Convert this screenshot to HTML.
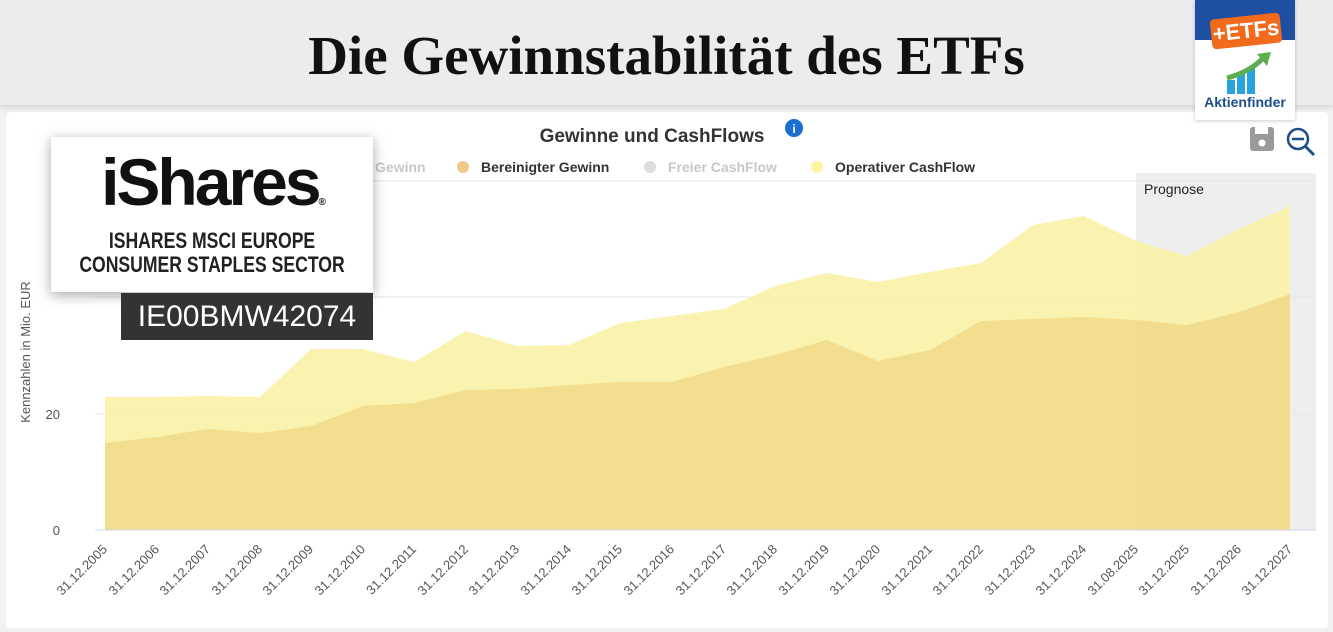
<!DOCTYPE html>
<html><head><meta charset="utf-8"><style>
body{margin:0;width:1333px;height:632px;overflow:hidden;background:#f2f2f4;font-family:"Liberation Sans",sans-serif;position:relative}
.hdr{position:absolute;left:0;top:0;width:1333px;height:105px;background:#ececee;box-shadow:0 2px 6px rgba(0,0,0,.15)}
.hdr h1{margin:0;position:absolute;left:0;width:1333px;top:24px;text-align:center;font-family:"Liberation Serif",serif;font-size:55px;font-weight:bold;color:#111}
.card{position:absolute;left:6px;top:112px;width:1322px;height:516px;background:#fff;border-radius:4px}
.logo{position:absolute;left:1195px;top:0;width:100px;height:120px;background:#fff;box-shadow:0 1px 4px rgba(0,0,0,.2)}
.ish{position:absolute;left:51px;top:137px;width:322px;height:155px;background:#fff;box-shadow:0 3px 12px rgba(0,0,0,.35);text-align:center}
.isin{position:absolute;left:121px;top:293px;width:252px;height:47px;background:#333;color:#fff;font-size:30px;line-height:47px;text-align:center;letter-spacing:0px}
</style></head><body>
<div class="hdr"><h1>Die Gewinnstabilität des ETFs</h1></div>
<div class="card"></div>
<svg style="position:absolute;left:0;top:0" width="1333" height="632">
<rect x="1136" y="173" width="180" height="357" fill="#eeeeee"/>
<text x="1144" y="194" font-size="14" fill="#222">Prognose</text>
<g stroke="#e6e6e6"><line x1="95" x2="1316" y1="181" y2="181"/><line x1="95" x2="1316" y1="297" y2="297"/><line x1="95" x2="1316" y1="414" y2="414"/></g>
<polygon fill="#f9f2a6" fill-opacity=".9" points="105,530 105,397 157,397 208,396 260,397 311,349 363,349 414,362 466,331 517,346 569,345 620,323 672,316 724,309 775,286 827,273 878,282 930,272 981,263 1033,225 1084,216 1136,241 1187,256 1239,229 1290,206 1290,530"/>
<polygon fill="#f1d98a" fill-opacity=".85" points="105,530 105,443 157,437 208,429 260,433 311,426 363,406 414,403 466,390 517,389 569,385 620,382 672,382 724,367 775,355 827,340 878,361 930,350 981,321 1033,319 1084,317 1136,320 1187,325 1239,312 1290,294 1290,530"/>
<line x1="95" x2="1316" y1="530" y2="530" stroke="#ccd6eb"/>
<text x="60" y="419" font-size="13" fill="#555" text-anchor="end">20</text>
<text x="60" y="535" font-size="13" fill="#555" text-anchor="end">0</text>
<text transform="translate(30,352) rotate(-90)" font-size="13" fill="#555" text-anchor="middle">Kennzahlen in Mio. EUR</text>
<text x="652" y="142" font-size="19" font-weight="bold" fill="#333" text-anchor="middle">Gewinne und CashFlows</text>
<circle cx="794" cy="128" r="9" fill="#1a6fd1"/><text x="794" y="133" font-size="12" font-weight="bold" fill="#fff" text-anchor="middle">i</text>
<g font-size="14" font-weight="bold">
<text x="375" y="172" fill="#c8c8c8">Gewinn</text>
<circle cx="463" cy="167" r="6" fill="#f0c98a"/><text x="481" y="172" fill="#333">Bereinigter Gewinn</text>
<circle cx="650" cy="167" r="6" fill="#ddd"/><text x="668" y="172" fill="#c8c8c8">Freier CashFlow</text>
<circle cx="817" cy="167" r="6" fill="#fbf4a0"/><text x="835" y="172" fill="#333">Operativer CashFlow</text>
</g>
<rect x="1250" y="127" width="24" height="24" rx="3" fill="#9a9a9a"/><rect x="1255" y="127" width="13" height="7" fill="#fff"/><circle cx="1262" cy="143" r="3.5" fill="#fff"/>
<circle cx="1298" cy="139" r="10" fill="none" stroke="#1c4f8a" stroke-width="2.5"/><line x1="1292" y1="139" x2="1304" y2="139" stroke="#1c4f8a" stroke-width="2.5"/><line x1="1305" y1="146" x2="1314" y2="155" stroke="#1c4f8a" stroke-width="3"/>
<g font-size="13" fill="#555" text-anchor="end">
<text transform="translate(108,550) rotate(-45)">31.12.2005</text>
<text transform="translate(160,550) rotate(-45)">31.12.2006</text>
<text transform="translate(211,550) rotate(-45)">31.12.2007</text>
<text transform="translate(263,550) rotate(-45)">31.12.2008</text>
<text transform="translate(314,550) rotate(-45)">31.12.2009</text>
<text transform="translate(366,550) rotate(-45)">31.12.2010</text>
<text transform="translate(417,550) rotate(-45)">31.12.2011</text>
<text transform="translate(469,550) rotate(-45)">31.12.2012</text>
<text transform="translate(520,550) rotate(-45)">31.12.2013</text>
<text transform="translate(572,550) rotate(-45)">31.12.2014</text>
<text transform="translate(623,550) rotate(-45)">31.12.2015</text>
<text transform="translate(675,550) rotate(-45)">31.12.2016</text>
<text transform="translate(727,550) rotate(-45)">31.12.2017</text>
<text transform="translate(778,550) rotate(-45)">31.12.2018</text>
<text transform="translate(830,550) rotate(-45)">31.12.2019</text>
<text transform="translate(881,550) rotate(-45)">31.12.2020</text>
<text transform="translate(933,550) rotate(-45)">31.12.2021</text>
<text transform="translate(984,550) rotate(-45)">31.12.2022</text>
<text transform="translate(1036,550) rotate(-45)">31.12.2023</text>
<text transform="translate(1087,550) rotate(-45)">31.12.2024</text>
<text transform="translate(1139,550) rotate(-45)">31.08.2025</text>
<text transform="translate(1190,550) rotate(-45)">31.12.2025</text>
<text transform="translate(1242,550) rotate(-45)">31.12.2026</text>
<text transform="translate(1293,550) rotate(-45)">31.12.2027</text>
</g>
</svg>
<div class="logo">
<div style="position:absolute;left:0;top:0;width:100px;height:40px;background:#1e4fa0"></div>
<div style="position:absolute;left:16px;top:16px;width:70px;height:30px;background:#f26a1b;border-radius:4px;transform:rotate(-6deg);color:#fff;font-weight:bold;font-size:22px;line-height:30px;text-align:center">+ETFs</div>
<div style="position:absolute;left:32px;top:80px;width:8px;height:14px;background:#29a3e0"></div>
<div style="position:absolute;left:42px;top:74px;width:8px;height:20px;background:#29a3e0"></div>
<div style="position:absolute;left:52px;top:68px;width:8px;height:26px;background:#29a3e0"></div>
<svg style="position:absolute;left:30px;top:52px" width="50" height="30"><path d="M2 26 Q25 20 38 6" stroke="#5cae4f" stroke-width="5" fill="none"/><polygon points="32,2 46,0 42,14" fill="#5cae4f"/></svg>
<div style="position:absolute;left:0;top:94px;width:100px;text-align:center;font-weight:bold;font-size:14px;color:#1c4f8a">Aktienfinder</div>
</div>
<div class="ish">
<div style="font-size:66px;font-weight:bold;letter-spacing:-3px;margin-top:10px;line-height:70px;color:#111">iShares<span style="font-size:10px">®</span></div>
<div style="position:absolute;left:-40px;width:402px;top:92px;white-space:nowrap;font-size:22px;font-weight:bold;line-height:24px;color:#222;transform:scaleX(.8)">ISHARES MSCI EUROPE<br>CONSUMER STAPLES SECTOR</div>
</div>
<div class="isin">IE00BMW42074</div>
</body></html>
